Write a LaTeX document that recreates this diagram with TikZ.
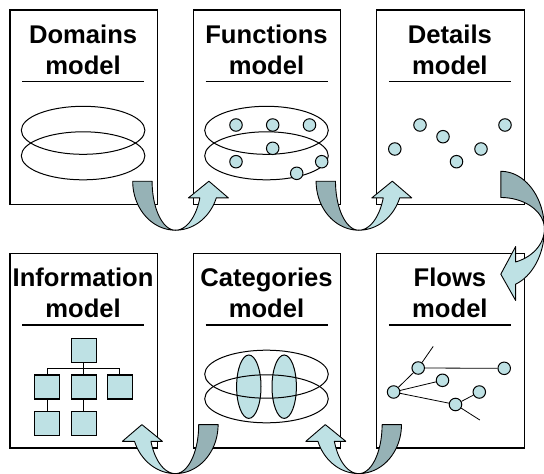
\documentclass[tikz,border=0pt]{standalone}
\usepackage{fontspec}
\setmainfont{Liberation Sans}
\usetikzlibrary{calc}
\definecolor{lightteal}{RGB}{190,225,228}
\definecolor{darkteal}{RGB}{150,178,182}
\tikzset{
  modelbox/.style={rectangle, draw=black, line width=1.2pt, fill=white,
    minimum width=147.4pt, minimum height=194.7pt, inner sep=0pt, anchor=north west},
  title/.style={anchor=base, inner sep=0pt, font=\fontsize{25.6}{30.7}\selectfont\bfseries},
  divider/.style={line width=1.1pt},
  ring/.style={draw=black, line width=1pt},
  dot/.style={circle, draw=black, line width=1pt, fill=lightteal, minimum size=12.5pt, inner sep=0pt},
  sq/.style={rectangle, draw=black, line width=1.1pt, fill=lightteal,
    minimum width=25pt, minimum height=24pt, inner sep=0pt},
  link/.style={line width=0.8pt},
  band/.style={draw=black, line width=0.9pt, line join=round},
}
% A curved ribbon arrow: the darker back of the ribbon goes down on the
% left, the lighter front comes back up on the right and ends in a head.
% Local frame: origin in the middle of the open side, second axis pointing
% towards the bend.
\newcommand{\uturnshape}{%
  \filldraw[band, fill=darkteal] (-42.7,0)
     -- plot[domain=180:90, samples=30] ({42.7*cos(\x)},{49*sin(\x)})
     -- plot[domain=90:180, samples=30] ({23.3*cos(\x)},{49*sin(\x)}) -- cycle;
  \filldraw[band, fill=lightteal] (0,49)
     -- plot[domain=90:19.93, samples=30] ({43.5*cos(\x)},{49*sin(\x)})
     -- (53,16.7) -- (33.5,0) -- (13,16.7)
     -- plot[domain=19.93:90, samples=30] ({26*cos(\x)},{49*sin(\x)}) -- cycle;
}
\begin{document}
\begin{tikzpicture}[x=1pt, y=-1pt]
  \useasboundingbox (0,0) rectangle (544,474);
  \fill[white] (0,0) rectangle (544,474);

  % the six model sheets
  \node[modelbox] (b1) at (9.4,9.3) {};
  \node[modelbox] (b2) at (192.8,9.3) {};
  \node[modelbox] (b3) at (376.2,9.3) {};
  \node[modelbox] (b4) at (9.4,252.7) {};
  \node[modelbox] (b5) at (192.8,252.7) {};
  \node[modelbox] (b6) at (376.2,252.7) {};

  % titles
  \node[title] (h1a) at (83.1,43.3) {Domains};
  \node[title] (h1b) at (83.1,74) {model};
  \node[title] (h2a) at (266.5,43.3) {Functions};
  \node[title] (h2b) at (266.5,74) {model};
  \node[title] (h3a) at (449.9,43.3) {Details};
  \node[title] (h3b) at (449.9,74) {model};
  \node[title] (h4a) at (83.1,286.7) {Information};
  \node[title] (h4b) at (83.1,317.4) {model};
  \node[title] (h5a) at (266.5,286.7) {Categories};
  \node[title] (h5b) at (266.5,317.4) {model};
  \node[title] (h6a) at (449.9,286.7) {Flows};
  \node[title] (h6b) at (449.9,317.4) {model};

  % rules under the titles
  \foreach \cx in {83.1,266.5,449.9}{
    \draw[divider] (\cx-61,81.7) -- (\cx+61,81.7);
    \draw[divider] (\cx-61,325) -- (\cx+61,325);
  }

  % domains: two overlapping rings
  \draw[ring] (83.1,130.3) ellipse [x radius=61.8pt, y radius=24pt];
  \draw[ring] (83.1,155.8) ellipse [x radius=61.8pt, y radius=24pt];

  % functions: rings with points
  \draw[ring] (266.5,130.3) ellipse [x radius=61.8pt, y radius=24pt];
  \draw[ring] (266.5,155.8) ellipse [x radius=61.8pt, y radius=24pt];
  \node[dot] (fn1) at (236,125) {};
  \node[dot] (fn2) at (272.7,125) {};
  \node[dot] (fn3) at (309.5,125) {};
  \node[dot] (fn4) at (272.7,148.3) {};
  \node[dot] (fn5) at (236,161.7) {};
  \node[dot] (fn6) at (321.7,161.7) {};
  \node[dot] (fn7) at (296.7,173.3) {};

  % details: loose points
  \node[dot] (dt1) at (420,125) {};
  \node[dot] (dt2) at (505,125) {};
  \node[dot] (dt3) at (443,136.7) {};
  \node[dot] (dt4) at (481,149) {};
  \node[dot] (dt5) at (394.8,149) {};
  \node[dot] (dt6) at (456.5,161.7) {};

  % information: a tree of boxes
  \node[sq] (t0) at (83.6,350.3) {};
  \node[sq] (t1) at (46.9,387) {};
  \node[sq] (t2) at (83.6,387) {};
  \node[sq] (t3) at (119.8,387) {};
  \node[sq] (t4) at (46.9,423.7) {};
  \node[sq] (t5) at (83.6,423.7) {};
  \coordinate (bus) at (83.6,368.3);
  \draw[link] (t0.south) -- (bus);
  \draw[link] (t1.north) |- (bus) -| (t3.north);
  \draw[link] (bus) -- (t2.north);
  \draw[link] (t1.south) -- (t4.north);
  \draw[link] (t2.south) -- (t5.north);

  % categories: two rings crossed by two groups
  \fill[lightteal] (248.8,386.7) ellipse [x radius=12.2pt, y radius=31.7pt];
  \fill[lightteal] (284.2,386.7) ellipse [x radius=12.2pt, y radius=31.7pt];
  \draw[ring] (266.5,374.2) ellipse [x radius=61.8pt, y radius=24pt];
  \draw[ring] (266.5,398.8) ellipse [x radius=61.8pt, y radius=24pt];
  \draw[ring] (248.8,386.7) ellipse [x radius=12.2pt, y radius=31.7pt];
  \draw[ring] (284.2,386.7) ellipse [x radius=12.2pt, y radius=31.7pt];

  % flows: connected points
  \node[dot] (fa) at (418.2,368) {};
  \node[dot] (fb) at (504.2,368.3) {};
  \node[dot] (fc) at (442.5,380.3) {};
  \node[dot] (fd) at (393.6,392) {};
  \node[dot] (fe) at (479.3,392) {};
  \node[dot] (ff) at (455.5,404.5) {};
  \coordinate (fu) at (433.2,346.4);
  \coordinate (fl) at (479.8,420);
  \draw[link] (fa) -- (fb);
  \draw[link] (fa) -- (fu);
  \draw[link] (fd) -- (fa);
  \draw[link] (fd) -- (fc);
  \draw[link] (fd) -- (ff);
  \draw[link] (ff) -- (fe);
  \draw[link] (ff) -- (fl);

  % ribbon arrows from sheet to sheet
  \begin{scope}[shift={($(b1.south east)!0.5!(b2.south west)+(0,-24)$)}]
    \uturnshape
  \end{scope}
  \begin{scope}[shift={($(b2.south east)!0.5!(b3.south west)+(0,-24)$)}]
    \uturnshape
  \end{scope}
  \begin{scope}[shift={($(b3.south east)!0.5!(b6.north east)+(-24,0)$)},
                x={(0pt,-1.35pt)}, y={(0.89pt,0pt)}]
    \uturnshape
  \end{scope}
  \begin{scope}[shift={($(b5.south east)!0.5!(b6.south west)+(0,-24)$)},
                x={(-1pt,0pt)}, y={(0pt,-1pt)}]
    \uturnshape
  \end{scope}
  \begin{scope}[shift={($(b4.south east)!0.5!(b5.south west)+(0,-24)$)},
                x={(-1pt,0pt)}, y={(0pt,-1pt)}]
    \uturnshape
  \end{scope}
\end{tikzpicture}
\end{document}
